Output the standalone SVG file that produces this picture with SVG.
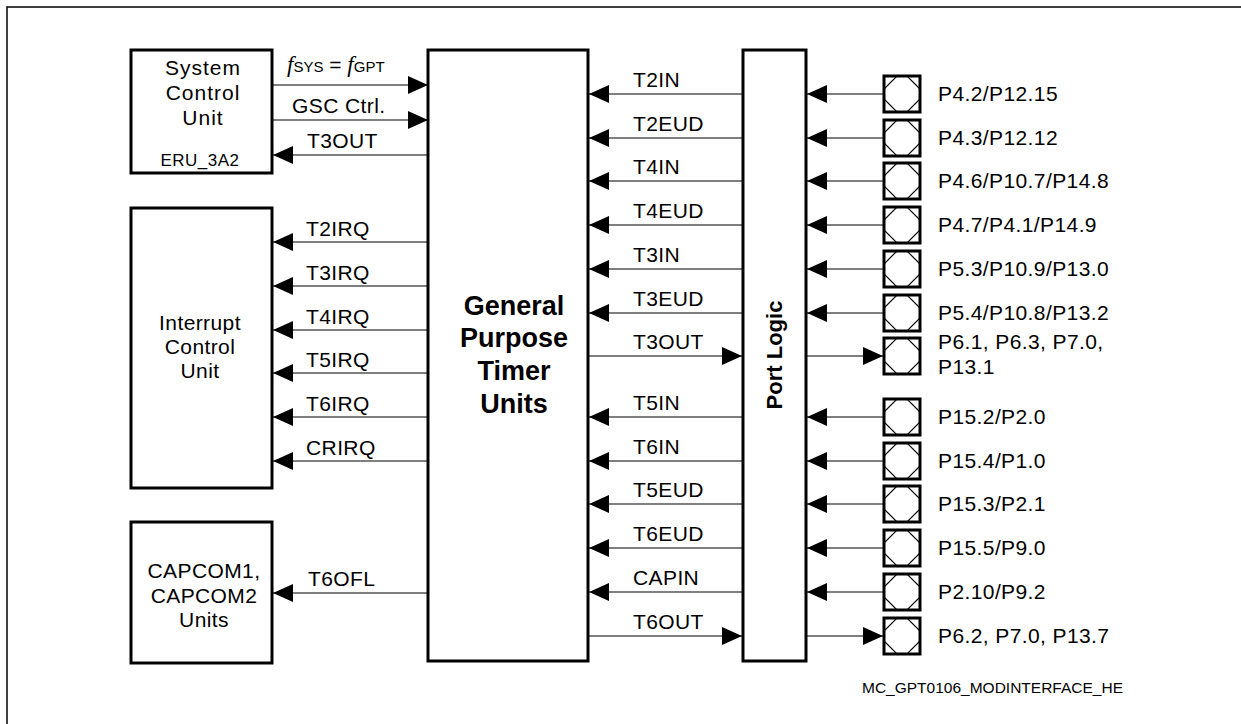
<svg xmlns="http://www.w3.org/2000/svg" width="1241" height="724" viewBox="0 0 1241 724">
<style>
.box{fill:#fff;stroke:#000;stroke-width:3}
.pin{fill:#fff;stroke:#000;stroke-width:3}
.oct{fill:none;stroke:#000;stroke-width:1.2}
.c{stroke:#000;stroke-width:1.2;fill:none;marker-end:url(#ah)}
text{font-family:"Liberation Sans",Arial,sans-serif;font-size:21px;letter-spacing:0.4px;fill:#000}
.ctr{text-anchor:middle}
.b{font-weight:bold;letter-spacing:0}
</style>
<defs>
<marker id="ah" viewBox="0 0 20 18" refX="20" refY="9" markerWidth="20" markerHeight="18" markerUnits="userSpaceOnUse" orient="auto">
<polygon points="0,0 20,9 0,18" fill="#000"/>
</marker>
<g id="pinshape">
<rect class="pin" x="0" y="-18" width="36" height="36"/>
<polygon class="oct" points="13,-18 23,-18 36,-5 36,5 23,18 13,18 0,5 0,-5"/>
</g>
</defs>
<rect width="1241" height="724" fill="#fff"/>
<path d="M7,724 V7 H1241" fill="none" stroke="#000" stroke-width="1.5"/>

<g id="scu">
<rect class="box" x="131" y="50" width="141" height="123"/>
<text class="ctr" x="203" y="75" style="letter-spacing:1px">System</text>
<text class="ctr" x="203" y="100" style="letter-spacing:1px">Control</text>
<text class="ctr" x="203" y="125" style="letter-spacing:1px">Unit</text>
<text class="ctr" x="200" y="166" style="font-size:17px;letter-spacing:0.5px">ERU_3A2</text>
</g>
<g id="icu">
<rect class="box" x="131" y="208" width="141" height="280"/>
<text class="ctr" x="200" y="330">Interrupt</text>
<text class="ctr" x="200" y="354">Control</text>
<text class="ctr" x="200" y="378">Unit</text>
</g>
<g id="capcom">
<rect class="box" x="131" y="522" width="141" height="141"/>
<text class="ctr" x="204" y="578">CAPCOM1,</text>
<text class="ctr" x="204" y="603">CAPCOM2</text>
<text class="ctr" x="204" y="627">Units</text>
</g>
<g id="gpt">
<rect class="box" x="428" y="50" width="160" height="611"/>
<text class="ctr b" x="514" y="315" style="font-size:27px">General</text>
<text class="ctr b" x="514" y="347" style="font-size:27px">Purpose</text>
<text class="ctr b" x="514" y="380" style="font-size:27px">Timer</text>
<text class="ctr b" x="514" y="413" style="font-size:27px">Units</text>
</g>
<g id="portlogic">
<rect class="box" x="743" y="50" width="63" height="611"/>
<text class="ctr b" transform="translate(782,355) rotate(-90)" style="font-size:22px">Port Logic</text>
</g>

<g id="pins">
<use href="#pinshape" x="884" y="94"/>
<use href="#pinshape" x="884" y="138"/>
<use href="#pinshape" x="884" y="181"/>
<use href="#pinshape" x="884" y="225"/>
<use href="#pinshape" x="884" y="269"/>
<use href="#pinshape" x="884" y="313"/>
<use href="#pinshape" x="884" y="356"/>
<use href="#pinshape" x="884" y="417"/>
<use href="#pinshape" x="884" y="461"/>
<use href="#pinshape" x="884" y="504"/>
<use href="#pinshape" x="884" y="548"/>
<use href="#pinshape" x="884" y="592"/>
<use href="#pinshape" x="884" y="636"/>
<text x="938" y="101">P4.2/P12.15</text>
<text x="938" y="145">P4.3/P12.12</text>
<text x="938" y="188">P4.6/P10.7/P14.8</text>
<text x="938" y="232">P4.7/P4.1/P14.9</text>
<text x="938" y="276">P5.3/P10.9/P13.0</text>
<text x="938" y="320">P5.4/P10.8/P13.2</text>
<text x="938" y="349">P6.1, P6.3, P7.0,</text>
<text x="938" y="374">P13.1</text>
<text x="938" y="424">P15.2/P2.0</text>
<text x="938" y="468">P15.4/P1.0</text>
<text x="938" y="511">P15.3/P2.1</text>
<text x="938" y="555">P15.5/P9.0</text>
<text x="938" y="599">P2.10/P9.2</text>
<text x="938" y="643">P6.2, P7.0, P13.7</text>
</g>

<g id="connectors">
<line class="c" x1="272" y1="85" x2="428" y2="85"/>
<line class="c" x1="272" y1="120" x2="428" y2="120"/>
<line class="c" x1="428" y1="155" x2="273" y2="155"/>
<line class="c" x1="428" y1="242" x2="273" y2="242"/>
<line class="c" x1="428" y1="286" x2="273" y2="286"/>
<line class="c" x1="428" y1="330" x2="273" y2="330"/>
<line class="c" x1="428" y1="373" x2="273" y2="373"/>
<line class="c" x1="428" y1="417" x2="273" y2="417"/>
<line class="c" x1="428" y1="461" x2="273" y2="461"/>
<line class="c" x1="428" y1="593" x2="273" y2="593"/>

<line class="c" x1="743" y1="94" x2="589" y2="94"/>
<line class="c" x1="743" y1="138" x2="589" y2="138"/>
<line class="c" x1="743" y1="181" x2="589" y2="181"/>
<line class="c" x1="743" y1="225" x2="589" y2="225"/>
<line class="c" x1="743" y1="269" x2="589" y2="269"/>
<line class="c" x1="743" y1="313" x2="589" y2="313"/>
<line class="c" x1="588" y1="356" x2="742" y2="356"/>
<line class="c" x1="743" y1="417" x2="589" y2="417"/>
<line class="c" x1="743" y1="461" x2="589" y2="461"/>
<line class="c" x1="743" y1="504" x2="589" y2="504"/>
<line class="c" x1="743" y1="548" x2="589" y2="548"/>
<line class="c" x1="743" y1="592" x2="589" y2="592"/>
<line class="c" x1="588" y1="636" x2="742" y2="636"/>

<line class="c" x1="884" y1="94" x2="807" y2="94"/>
<line class="c" x1="884" y1="138" x2="807" y2="138"/>
<line class="c" x1="884" y1="181" x2="807" y2="181"/>
<line class="c" x1="884" y1="225" x2="807" y2="225"/>
<line class="c" x1="884" y1="269" x2="807" y2="269"/>
<line class="c" x1="884" y1="313" x2="807" y2="313"/>
<line class="c" x1="806" y1="356" x2="883" y2="356"/>
<line class="c" x1="884" y1="417" x2="807" y2="417"/>
<line class="c" x1="884" y1="461" x2="807" y2="461"/>
<line class="c" x1="884" y1="504" x2="807" y2="504"/>
<line class="c" x1="884" y1="548" x2="807" y2="548"/>
<line class="c" x1="884" y1="592" x2="807" y2="592"/>
<line class="c" x1="806" y1="636" x2="883" y2="636"/>

<text x="287" y="72" style="letter-spacing:0"><tspan font-family="Liberation Serif" font-style="italic" font-size="23">f</tspan><tspan font-size="15">SYS</tspan> = <tspan font-family="Liberation Serif" font-style="italic" font-size="23">f</tspan><tspan font-size="15">GPT</tspan></text>
<text x="292" y="113">GSC Ctrl.</text>
<text x="307" y="148">T3OUT</text>
<text x="306" y="236">T2IRQ</text>
<text x="306" y="280">T3IRQ</text>
<text x="306" y="324">T4IRQ</text>
<text x="306" y="367">T5IRQ</text>
<text x="306" y="411">T6IRQ</text>
<text x="306" y="455">CRIRQ</text>
<text x="308" y="586">T6OFL</text>

<text x="633" y="87">T2IN</text>
<text x="633" y="131">T2EUD</text>
<text x="633" y="174">T4IN</text>
<text x="633" y="218">T4EUD</text>
<text x="633" y="262">T3IN</text>
<text x="633" y="306">T3EUD</text>
<text x="633" y="349">T3OUT</text>
<text x="633" y="410">T5IN</text>
<text x="633" y="454">T6IN</text>
<text x="633" y="497">T5EUD</text>
<text x="633" y="541">T6EUD</text>
<text x="633" y="585">CAPIN</text>
<text x="633" y="629">T6OUT</text>
</g>

<text x="862" y="693" style="font-size:15px;letter-spacing:0" textLength="261" lengthAdjust="spacingAndGlyphs">MC_GPT0106_MODINTERFACE_HE</text>
</svg>
